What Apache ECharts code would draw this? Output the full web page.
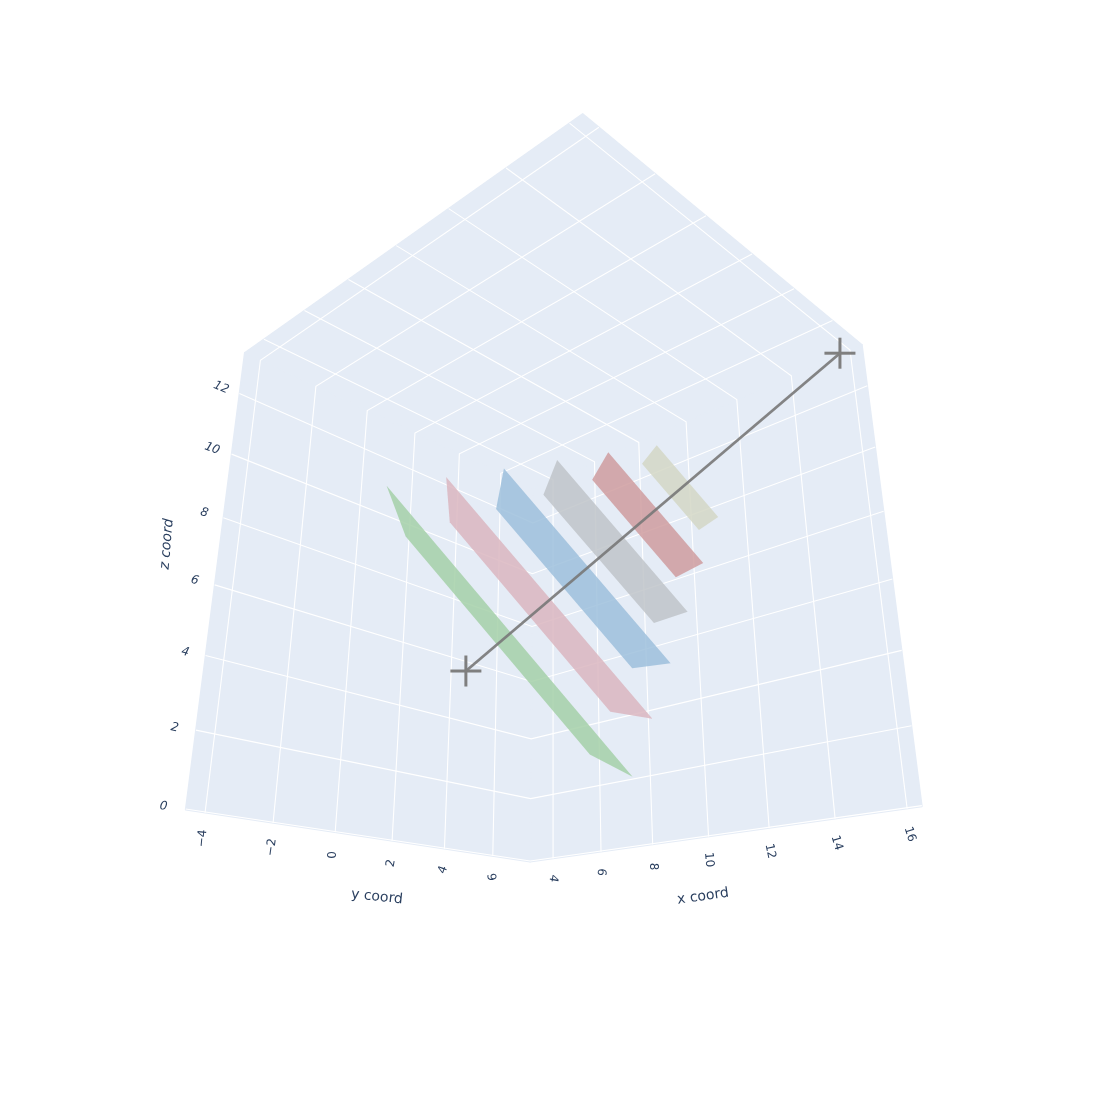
<!DOCTYPE html>
<html><head><meta charset="utf-8"><style>html,body{margin:0;background:#fff}#chart{width:1100px;height:1100px}</style>
<script src="https://cdn.jsdelivr.net/npm/echarts@6/dist/echarts.min.js"></script></head>
<body><div id="chart"></div>
<script>
// ---- data ----
const xTicks = [4, 6, 8, 10, 12, 14, 16];
const yTicks = [-4, -2, 0, 2, 4, 6];
const zTicks = [0, 2, 4, 6, 8, 10, 12];
const xRange = [2.99, 16.39];
const yRange = [-4.54, 7.66];
const zRange = [-0.02, 13.4];
const xTitle = 'x coord', yTitle = 'y coord', zTitle = 'z coord';
// ray from source to detector
const rayX = [4, 16];
const rayY = [3.72, 7.00];
const rayZ = [5.25, 12.97];
// slices, one plane of constant x each, four corners
const sliceX = [5.30, 6.52, 7.71, 8.86, 9.97, 11.06];
const sliceY = [
  [-0.78, 0.03, 8.00, 10.13],
  [0.43, 0.64, 7.62, 9.75],
  [1.62, 1.34, 7.31, 9.29],
  [2.68, 2.10, 7.01, 8.78],
  [3.70, 2.96, 6.74, 8.21],
  [4.63, 3.90, 6.53, 7.59]
];
const sliceZ = [
  [9.57, 8.21, 3.15, 2.76],
  [9.88, 8.48, 4.25, 4.44],
  [10.18, 8.76, 5.35, 5.98],
  [10.45, 9.09, 6.48, 7.33],
  [10.69, 9.50, 7.60, 8.53],
  [10.88, 9.98, 8.76, 9.56]
];
// ---- camera: normalised box coordinates to picture ----
const CAM = [223.3134,500.7218,105.974,185.5638,-319.8473,305.6574,-389.3482,809.7916,-0.3079511,0.2945348,0.191583];
const sliceColors = ['rgba(164,208,168,.85)','rgba(218,182,192,.85)','rgba(157,191,220,.85)','rgba(192,196,201,.85)','rgba(207,156,159,.85)','rgba(211,215,197,.85)'];
const TEXT = '#2a3f5f', FONT = '"DejaVu Sans"';
function project(x, y, z) {
  const u = (x - xRange[0]) / (xRange[1] - xRange[0]);
  const v = (y - yRange[0]) / (yRange[1] - yRange[0]);
  const w = (z - zRange[0]) / (zRange[1] - zRange[0]);
  const P = CAM, d = P[8]*u + P[9]*v + P[10]*w + 1;
  return [(P[0]*u + P[1]*v + P[2]*w + P[3]) / d, (P[4]*u + P[5]*v + P[6]*w + P[7]) / d];
}
const [x0, x1] = xRange, [y0, y1] = yRange, [z0, z1] = zRange;
const walls = [
  [[x0,y0,z0],[x0,y1,z0],[x0,y1,z1],[x0,y0,z1]],
  [[x0,y1,z0],[x1,y1,z0],[x1,y1,z1],[x0,y1,z1]],
  [[x0,y0,z1],[x0,y1,z1],[x1,y1,z1],[x1,y0,z1]]
];
const gridLines = [];
yTicks.forEach(y => gridLines.push([[x0,y,z0],[x0,y,z1],[x1,y,z1]]));
xTicks.forEach(x => gridLines.push([[x,y1,z0],[x,y1,z1],[x,y0,z1]]));
zTicks.forEach(z => gridLines.push([[x0,y0,z],[x0,y1,z],[x1,y1,z]]));
const slices = sliceX.map((x, i) => sliceY[i].map((y, j) => [x, y, sliceZ[i][j]]));
// ---- label layout: [offset from tick dx, dy, rotation deg (ccw)] ----
const xLabelLayout = [[0,20.5,-100],[0,21,-95],[0,23,-90],[0.3,24,-85],[1,24,-78],[1.7,25,-74],[2.7,26.5,-72]];
const yLabelLayout = [[-2.7,26.4,85],[-1.6,25,82],[-2,23.3,90],[-1,23,80],[-1.4,21.7,70],[0.6,21.3,100]];
const zLabelLayout = [[-22.3,-2.5,-8],[-21.3,-2.5,-12],[-20.3,-3.5,-14],[-20,-4.5,-15],[-19,-5,-16],[-19.4,-5.5,-20],[-18.3,-6,-23]];
const texts = [];
xTicks.forEach((t, i) => { const p = project(t, y1, 0), l = xLabelLayout[i];
  texts.push({t: String(t), x: p[0]+l[0], y: p[1]+l[1], r: l[2], s: 12}); });
yTicks.forEach((t, i) => { const p = project(x0, t, 0), l = yLabelLayout[i];
  texts.push({t: String(t).replace('-', '\u2212'), x: p[0]+l[0], y: p[1]+l[1], r: l[2], s: 12}); });
zTicks.forEach((t, i) => { const p = project(x0, y0, t), l = zLabelLayout[i];
  texts.push({t: String(t), x: p[0]+l[0], y: p[1]+l[1], r: l[2], s: 12, it: true}); });
texts.push({t: xTitle, x: 703, y: 896.5, r: 8, s: 14});
texts.push({t: yTitle, x: 377, y: 897, r: -6, s: 14});
texts.push({t: zTitle, x: 167, y: 544, r: 85, s: 14, it: true});

const toPx = (api, p) => api.coord(project(p[0], p[1], p[2]));
const noClip = {clip: false, silent: true};
const chart = echarts.init(document.getElementById('chart'), null, {renderer: 'canvas'});
chart.setOption({
  animation: false,
  backgroundColor: '#fff',
  grid: {left: 0, right: 0, top: 0, bottom: 0},
  xAxis: {type: 'value', min: 0, max: 1100, show: false},
  yAxis: {type: 'value', min: 0, max: 1100, inverse: true, show: false},
  series: [
    {type: 'custom', coordinateSystem: 'cartesian2d', ...noClip, z: 1, data: walls.map((_, i) => [i, 0]),
     renderItem: (params, api) => ({type: 'polygon', shape: {points: walls[params.dataIndex].map(p => toPx(api, p))},
       style: {fill: '#E5ECF6', stroke: '#E5ECF6', lineWidth: 1.5, lineJoin: 'round'}})},
    {type: 'custom', coordinateSystem: 'cartesian2d', ...noClip, z: 2, data: gridLines.map((_, i) => [i, 0]),
     renderItem: (params, api) => ({type: 'polyline', shape: {points: gridLines[params.dataIndex].map(p => toPx(api, p))},
       style: {fill: null, stroke: '#fff', lineWidth: 1.1}})},
    {type: 'custom', coordinateSystem: 'cartesian2d', ...noClip, z: 3, data: slices.map((_, i) => [i, 0]),
     renderItem: (params, api) => ({type: 'polygon', shape: {points: slices[params.dataIndex].map(p => toPx(api, p))},
       style: {fill: sliceColors[params.dataIndex]}})},
    {type: 'line', ...noClip, z: 4, showSymbol: false, symbol: 'none',
     data: rayX.map((x, i) => project(x, rayY[i], rayZ[i])),
     lineStyle: {color: 'rgba(120,120,120,.9)', width: 2.8}},
    {type: 'custom', coordinateSystem: 'cartesian2d', ...noClip, z: 5, data: rayX.map((x, i) => [i, 0]),
     renderItem: (params, api) => {
       const i = params.dataIndex, c = api.coord(project(rayX[i], rayY[i], rayZ[i])), h = 15.5;
       const st = {stroke: '#7f7f7f', lineWidth: 3};
       return {type: 'group', children: [
         {type: 'line', shape: {x1: c[0]-h, y1: c[1], x2: c[0]+h, y2: c[1]}, style: st},
         {type: 'line', shape: {x1: c[0], y1: c[1]-h, x2: c[0], y2: c[1]+h}, style: st}]};
     }},
    {type: 'custom', coordinateSystem: 'cartesian2d', ...noClip, z: 6, data: texts.map((_, i) => [i, 0]),
     renderItem: (params, api) => {
       const t = texts[params.dataIndex], c = api.coord([t.x, t.y]);
       return {type: 'text', x: c[0], y: c[1], rotation: t.r * Math.PI / 180,
         style: {text: t.t, x: 0, y: 0, align: 'center', verticalAlign: 'middle', fill: TEXT,
           fontSize: t.s, fontFamily: FONT, fontStyle: t.it ? 'italic' : 'normal'}};
     }}
  ]
});
</script></body></html>
